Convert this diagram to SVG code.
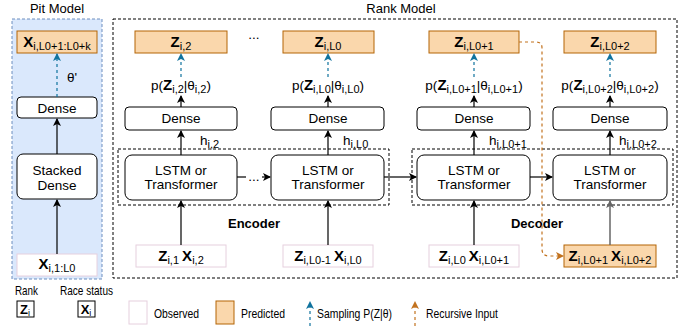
<svg xmlns="http://www.w3.org/2000/svg" width="684" height="326" viewBox="0 0 684 326">
<style>
text{font-family:"Liberation Sans",Arial,Helvetica,sans-serif;fill:#000}
.t13{font-size:13.5px}
.ttl{font-size:13px;text-anchor:middle}
.lbl{font-size:13.5px;text-anchor:middle}
.b{font-weight:bold;font-size:15px}
.s{font-size:11px}
.box{fill:#fff;stroke:#000;stroke-width:1}
.pred{fill:#fad7ac;stroke:#b46504;stroke-width:1}
.obs{fill:#fff;stroke:#e6d0de;stroke-width:1}
.dash{fill:none;stroke:#000;stroke-width:1;stroke-dasharray:3 2}
.ar{fill:none;stroke:#000;stroke-width:1.2}
.bl{fill:none;stroke:#10739e;stroke-width:1.2;stroke-dasharray:3 3}
.or{fill:none;stroke:#c2721e;stroke-width:1.2;stroke-dasharray:3 3}
.leg{font-size:13px}
</style>
<defs>
<marker id="ak" viewBox="0 0 8 8" refX="7" refY="4" markerWidth="8" markerHeight="8" markerUnits="userSpaceOnUse" orient="auto"><path d="M0,0 L8,4 L0,8 L2,4 z" fill="#000"/></marker>
<marker id="ag" viewBox="0 0 8 8" refX="7" refY="4" markerWidth="8" markerHeight="8" markerUnits="userSpaceOnUse" orient="auto"><path d="M0,0 L8,4 L0,8 L2,4 z" fill="#666"/></marker>
<marker id="ab" viewBox="0 0 8 8" refX="7" refY="4" markerWidth="8" markerHeight="8" markerUnits="userSpaceOnUse" orient="auto"><path d="M0,0 L8,4 L0,8 L2,4 z" fill="#10739e"/></marker>
<marker id="ao" viewBox="0 0 8 8" refX="7" refY="4" markerWidth="8" markerHeight="8" markerUnits="userSpaceOnUse" orient="auto"><path d="M0,0 L8,4 L0,8 L2,4 z" fill="#c2721e"/></marker>
</defs>

<!-- containers -->
<g id="pit-model">
<rect x="12" y="19" width="90" height="260" fill="#dae8fc" stroke="#6c8ebf" stroke-dasharray="3 2"/>
<text class="ttl" x="57" y="13">Pit Model</text>
</g>
<g id="rank-model">
<rect x="113" y="19" width="564" height="259" class="dash"/>
<text class="ttl" x="401" y="13">Rank Model</text>
</g>
<g id="encoder">
<rect x="118" y="149" width="271" height="56" class="dash"/>
<text class="ttl" x="254" y="228" font-weight="bold">Encoder</text>
</g>
<g id="decoder">
<rect x="412" y="149" width="261" height="56" class="dash"/>
<text class="ttl" x="537" y="228" font-weight="bold">Decoder</text>
</g>

<!-- pit model nodes -->
<g id="pit-out">
<rect x="17" y="31" width="80" height="22" class="pred"/>
<text x="57" y="47" text-anchor="middle"><tspan class="b">X</tspan><tspan class="s" dy="3">i,L0+1:L0+k</tspan></text>
</g>
<g id="pit-dense">
<rect x="17" y="97" width="80" height="21" rx="4" class="box"/>
<text class="lbl" x="57" y="112.5">Dense</text>
</g>
<g id="pit-stacked">
<rect x="17" y="154" width="80" height="45" rx="6" class="box"/>
<text class="lbl" x="57" y="175">Stacked</text>
<text class="lbl" x="57" y="190">Dense</text>
</g>
<g id="pit-in">
<rect x="17" y="254" width="80" height="22" class="obs"/>
<text x="57" y="269" text-anchor="middle"><tspan class="b">X</tspan><tspan class="s" dy="3">i,1:L0</tspan></text>
</g>

<!-- rank model: outputs -->
<g id="z2">
<rect x="135" y="31" width="92" height="22" class="pred"/>
<text x="181" y="47" text-anchor="middle"><tspan class="b">Z</tspan><tspan class="s" dy="3">i,2</tspan></text>
</g>
<g id="zL0">
<rect x="283" y="31" width="91" height="22" class="pred"/>
<text x="328" y="47" text-anchor="middle"><tspan class="b">Z</tspan><tspan class="s" dy="3">i,L0</tspan></text>
</g>
<g id="zL1">
<rect x="429" y="31" width="90" height="22" class="pred"/>
<text x="474" y="47" text-anchor="middle"><tspan class="b">Z</tspan><tspan class="s" dy="3">i,L0+1</tspan></text>
</g>
<g id="zL2">
<rect x="564" y="31" width="92" height="22" class="pred"/>
<text x="610" y="47" text-anchor="middle"><tspan class="b">Z</tspan><tspan class="s" dy="3">i,L0+2</tspan></text>
</g>
<text class="t13" x="254" y="39" text-anchor="middle">...</text>

<!-- probability labels -->
<g id="p2"><text class="t13" x="181" y="90" text-anchor="middle">p(<tspan class="b">Z</tspan><tspan class="s" dy="3">i,2</tspan><tspan dy="-3">|θ</tspan><tspan class="s" dy="3">i,2</tspan><tspan dy="-3">)</tspan></text></g>
<g id="pL0"><text class="t13" x="328" y="90" text-anchor="middle">p(<tspan class="b">Z</tspan><tspan class="s" dy="3">i,L0</tspan><tspan dy="-3">|θ</tspan><tspan class="s" dy="3">i,L0</tspan><tspan dy="-3">)</tspan></text></g>
<g id="pL1"><text class="t13" x="474" y="90" text-anchor="middle">p(<tspan class="b">Z</tspan><tspan class="s" dy="3">i,L0+1</tspan><tspan dy="-3">|θ</tspan><tspan class="s" dy="3">i,L0+1</tspan><tspan dy="-3">)</tspan></text></g>
<g id="pL2"><text class="t13" x="610" y="90" text-anchor="middle">p(<tspan class="b">Z</tspan><tspan class="s" dy="3">i,L0+2</tspan><tspan dy="-3">|θ</tspan><tspan class="s" dy="3">i,L0+2</tspan><tspan dy="-3">)</tspan></text></g>

<!-- dense -->
<g id="dense2"><rect x="125" y="107" width="112" height="23" rx="4" class="box"/><text class="lbl" x="181" y="123">Dense</text></g>
<g id="denseL0"><rect x="271" y="107" width="113" height="23" rx="4" class="box"/><text class="lbl" x="328" y="123">Dense</text></g>
<g id="denseL1"><rect x="417" y="107" width="113" height="23" rx="4" class="box"/><text class="lbl" x="474" y="123">Dense</text></g>
<g id="denseL2"><rect x="553" y="107" width="114" height="23" rx="4" class="box"/><text class="lbl" x="610" y="123">Dense</text></g>

<!-- LSTM -->
<g id="lstm2"><rect x="125" y="155" width="112" height="45" rx="7" class="box"/><text class="lbl" x="181" y="175">LSTM or</text><text class="lbl" x="181" y="189">Transformer</text></g>
<g id="lstmL0"><rect x="271" y="155" width="113" height="45" rx="7" class="box"/><text class="lbl" x="328" y="175">LSTM or</text><text class="lbl" x="328" y="189">Transformer</text></g>
<g id="lstmL1"><rect x="417" y="155" width="113" height="45" rx="7" class="box"/><text class="lbl" x="474" y="175">LSTM or</text><text class="lbl" x="474" y="189">Transformer</text></g>
<g id="lstmL2"><rect x="553" y="155" width="114" height="45" rx="7" class="box"/><text class="lbl" x="610" y="175">LSTM or</text><text class="lbl" x="610" y="189">Transformer</text></g>

<!-- inputs -->
<g id="in2"><rect x="136" y="245" width="90" height="22" class="obs"/><text x="181" y="261" text-anchor="middle"><tspan class="b">Z</tspan><tspan class="s" dy="3">i,1 </tspan><tspan class="b" dy="-3"> X</tspan><tspan class="s" dy="3">i,2</tspan></text></g>
<g id="inL0"><rect x="283" y="245" width="90" height="22" class="obs"/><text x="328" y="261" text-anchor="middle"><tspan class="b">Z</tspan><tspan class="s" dy="3">i,L0-1 </tspan><tspan class="b" dy="-3"> X</tspan><tspan class="s" dy="3">i,L0</tspan></text></g>
<g id="inL1"><rect x="429" y="245" width="90" height="22" class="obs"/><text x="474" y="261" text-anchor="middle"><tspan class="b">Z</tspan><tspan class="s" dy="3">i,L0 </tspan><tspan class="b" dy="-3"> X</tspan><tspan class="s" dy="3">i,L0+1</tspan></text></g>
<g id="inL2"><rect x="564" y="245" width="92" height="22" class="pred"/><text x="610" y="261" text-anchor="middle"><tspan class="b">Z</tspan><tspan class="s" dy="3">i,L0+1 </tspan><tspan class="b" dy="-3">X</tspan><tspan class="s" dy="3">i,L0+2</tspan></text></g>

<!-- connectors -->
<g id="connectors">
<line x1="57" y1="97" x2="57" y2="54" class="bl" marker-end="url(#ab)"/>
<line x1="57" y1="154" x2="57" y2="119" class="ar" marker-end="url(#ak)"/>
<line x1="57" y1="254" x2="57" y2="200" class="ar" marker-end="url(#ak)"/>
<text class="t13" x="67" y="82">θ'</text>

<line x1="181" y1="77" x2="181" y2="54" class="bl" marker-end="url(#ab)"/>
<line x1="328" y1="77" x2="328" y2="54" class="bl" marker-end="url(#ab)"/>
<line x1="474" y1="77" x2="474" y2="54" class="bl" marker-end="url(#ab)"/>
<line x1="610" y1="77" x2="610" y2="54" class="bl" marker-end="url(#ab)"/>

<line x1="181" y1="107" x2="181" y2="96" class="ar" marker-end="url(#ak)"/>
<line x1="328" y1="107" x2="328" y2="96" class="ar" marker-end="url(#ak)"/>
<line x1="474" y1="107" x2="474" y2="96" class="ar" marker-end="url(#ak)"/>
<line x1="610" y1="107" x2="610" y2="96" class="ar" marker-end="url(#ak)"/>

<line x1="181" y1="155" x2="181" y2="131" class="ar" marker-end="url(#ak)"/>
<line x1="328" y1="155" x2="328" y2="131" class="ar" marker-end="url(#ak)"/>
<line x1="474" y1="155" x2="474" y2="131" class="ar" marker-end="url(#ak)"/>
<line x1="610" y1="155" x2="610" y2="131" class="ar" marker-end="url(#ak)"/>
<text class="t13" x="200" y="145">h<tspan class="s" dy="3">i,2</tspan></text>
<text class="t13" x="343" y="145">h<tspan class="s" dy="3">i,L0</tspan></text>
<text class="t13" x="489" y="145">h<tspan class="s" dy="3">i,L0+1</tspan></text>
<text class="t13" x="619" y="145">h<tspan class="s" dy="3">i,L0+2</tspan></text>

<line x1="237" y1="177" x2="246" y2="177" class="ar"/>
<text class="t13" x="254" y="181" text-anchor="middle">...</text>
<line x1="262" y1="177" x2="270" y2="177" class="ar" marker-end="url(#ak)"/>
<line x1="384" y1="177" x2="416" y2="177" class="ar" marker-end="url(#ak)"/>
<line x1="530" y1="177" x2="552" y2="177" class="ar" marker-end="url(#ak)"/>

<line x1="181" y1="245" x2="181" y2="201" class="ar" marker-end="url(#ak)"/>
<line x1="328" y1="245" x2="328" y2="201" class="ar" marker-end="url(#ak)"/>
<line x1="474" y1="245" x2="474" y2="201" class="ar" marker-end="url(#ak)"/>
<line x1="610" y1="245" x2="610" y2="201" fill="none" stroke="#666" stroke-width="1.5" marker-end="url(#ag)"/>

<path d="M519,42 H536 Q542,42 542,48 V249 Q542,256 549,256 H563" class="or" marker-end="url(#ao)"/>
</g>

<!-- legend -->
<g id="legend">
<text class="leg" x="15" y="295" textLength="23" lengthAdjust="spacingAndGlyphs">Rank</text>
<text class="leg" x="60" y="295" textLength="53" lengthAdjust="spacingAndGlyphs">Race status</text>
<rect x="17" y="301" width="17" height="16" class="box"/>
<text x="25" y="314" text-anchor="middle"><tspan font-weight="bold" font-size="13">Z</tspan><tspan font-size="9" dy="2">i</tspan></text>
<rect x="78" y="301" width="17" height="16" class="box"/>
<text x="86" y="314" text-anchor="middle"><tspan font-weight="bold" font-size="13">X</tspan><tspan font-size="9" dy="2">i</tspan></text>
<rect x="129" y="301" width="18" height="23" class="obs"/>
<text class="leg" x="154" y="318" textLength="45" lengthAdjust="spacingAndGlyphs">Observed</text>
<rect x="216" y="301" width="18" height="23" class="pred"/>
<text class="leg" x="241" y="318" textLength="44" lengthAdjust="spacingAndGlyphs">Predicted</text>
<line x1="310" y1="326" x2="310" y2="302" class="bl" marker-end="url(#ab)"/>
<text class="leg" x="317" y="318" textLength="75" lengthAdjust="spacingAndGlyphs">Sampling P(Z|θ)</text>
<line x1="415" y1="326" x2="415" y2="302" class="or" marker-end="url(#ao)"/>
<text class="leg" x="426" y="318" textLength="72" lengthAdjust="spacingAndGlyphs">Recursive Input</text>
</g>
</svg>
